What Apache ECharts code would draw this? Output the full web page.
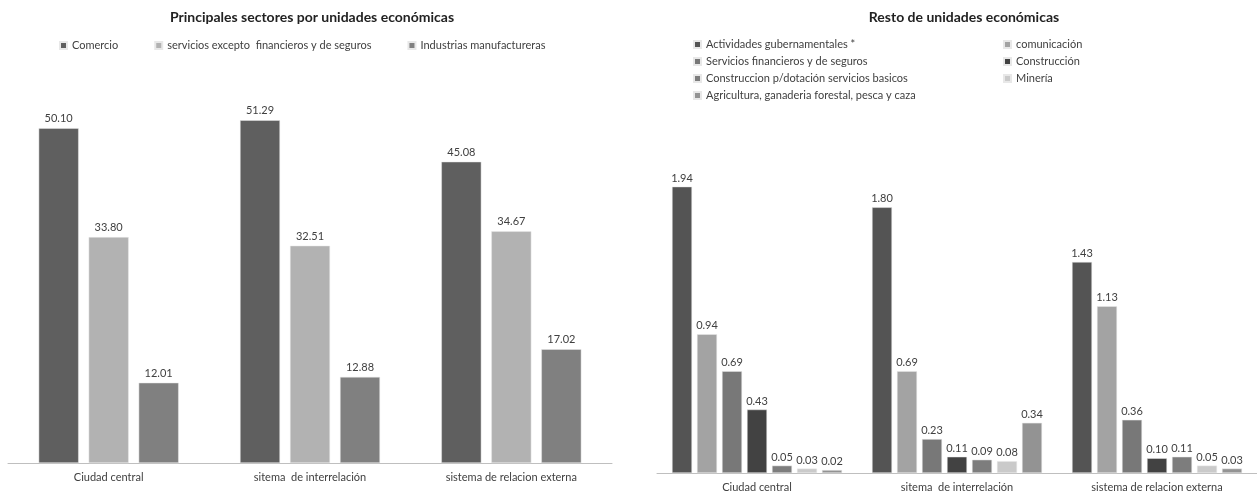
<!DOCTYPE html>
<html><head><meta charset="utf-8">
<script src="https://cdn.jsdelivr.net/npm/echarts@6/dist/echarts.min.js"></script>
<style>html,body{margin:0;padding:0;background:#fff}#c{width:1257px;height:500px}</style>
</head><body><div id="c"></div>
<script>
const categories = ['Ciudad central', 'sitema  de interrelación', 'sistema de relacion externa'];
const leftNames = ['Comercio', 'servicios excepto  financieros y de seguros', 'Industrias manufactureras'];
const comercio = [50.10, 51.29, 45.08];
const servicios = [33.80, 32.51, 34.67];
const industrias = [12.01, 12.88, 17.02];
const leftColors = ['#5f5f5f', '#b2b2b2', '#808080'];

const rightNames = ['Actividades gubernamentales *', 'comunicación', 'Servicios financieros y de seguros', 'Construcción', 'Construccion p/dotación servicios basicos', 'Minería', 'Agricultura, ganaderia forestal, pesca y caza'];
const actividades = [1.94, 1.80, 1.43];
const comunicacion = [0.94, 0.69, 1.13];
const financieros = [0.69, 0.23, 0.36];
const construccion = [0.43, 0.11, 0.10];
const dotacion = [0.05, 0.09, 0.11];
const mineria = [0.03, 0.08, 0.05];
const agricultura = [0.02, 0.34, 0.03];
const rightColors = ['#545454', '#a3a3a3', '#787878', '#424242', '#7d7d7d', '#cacaca', '#939393'];

const FONT = 'Lato';
const leftData = [comercio, servicios, industrias];
const rightData = [actividades, comunicacion, financieros, construccion, dotacion, mineria, agricultura];

const chart = echarts.init(document.getElementById('c'));
const label = {show: true, position: 'top', color: '#404040', fontSize: 11, fontFamily: FONT, distance: 4, formatter: p => p.value.toFixed(2)};
const series = [];
leftNames.forEach((n, i) => series.push({name: n, type: 'bar', xAxisIndex: 0, yAxisIndex: 0, data: leftData[i], barWidth: 40, barGap: '25%', itemStyle: {color: leftColors[i], borderColor: '#e8e8e8', borderWidth: 0.5}, label: label}));
rightNames.forEach((n, i) => series.push({name: n, type: 'bar', xAxisIndex: 1, yAxisIndex: 1, data: rightData[i], barWidth: 20, barGap: '25%', itemStyle: {color: rightColors[i], borderColor: '#e8e8e8', borderWidth: 0.5}, label: Object.assign({}, label, {distance: 3})}));

const legendText = {color: '#404040', fontSize: 11, fontFamily: FONT};
chart.setOption({
  animation: false,
  title: [
    {text: 'Principales sectores por unidades económicas', left: 307, top: 5, textAlign: 'center', textStyle: {fontSize: 14, fontWeight: 'bold', color: '#222', fontFamily: FONT}},
    {text: 'Resto de unidades económicas', left: 959, top: 5, textAlign: 'center', textStyle: {fontSize: 14, fontWeight: 'bold', color: '#222', fontFamily: FONT}}
  ],
  legend: [
    {data: leftNames, left: 54, top: 35, itemWidth: 7, itemHeight: 7, itemGap: 36, icon: 'rect', textStyle: legendText},
    {data: [rightNames[0], rightNames[2], rightNames[4], rightNames[6]], orient: 'vertical', left: 688, top: 34, itemWidth: 7, itemHeight: 7, itemGap: 6, icon: 'rect', textStyle: legendText},
    {data: [rightNames[1], rightNames[3], rightNames[5]], orient: 'vertical', left: 998, top: 34, itemWidth: 7, itemHeight: 7, itemGap: 6, icon: 'rect', textStyle: legendText}
  ],
  grid: [
    {left: 8, width: 604, top: 62, height: 401},
    {left: 657, width: 600, top: 104, height: 369}
  ],
  xAxis: [0, 1].map(g => ({type: 'category', gridIndex: g, data: categories, axisLine: {lineStyle: {color: '#bfbfbf'}}, axisTick: {show: false}, axisLabel: {color: '#404040', fontSize: 11, fontFamily: FONT, margin: 9}})),
  yAxis: [
    {type: 'value', gridIndex: 0, min: 0, max: 60, show: false, splitLine: {show: false}},
    {type: 'value', gridIndex: 1, min: 0, max: 2.5, show: false, splitLine: {show: false}}
  ],
  series: series
});
</script></body></html>
